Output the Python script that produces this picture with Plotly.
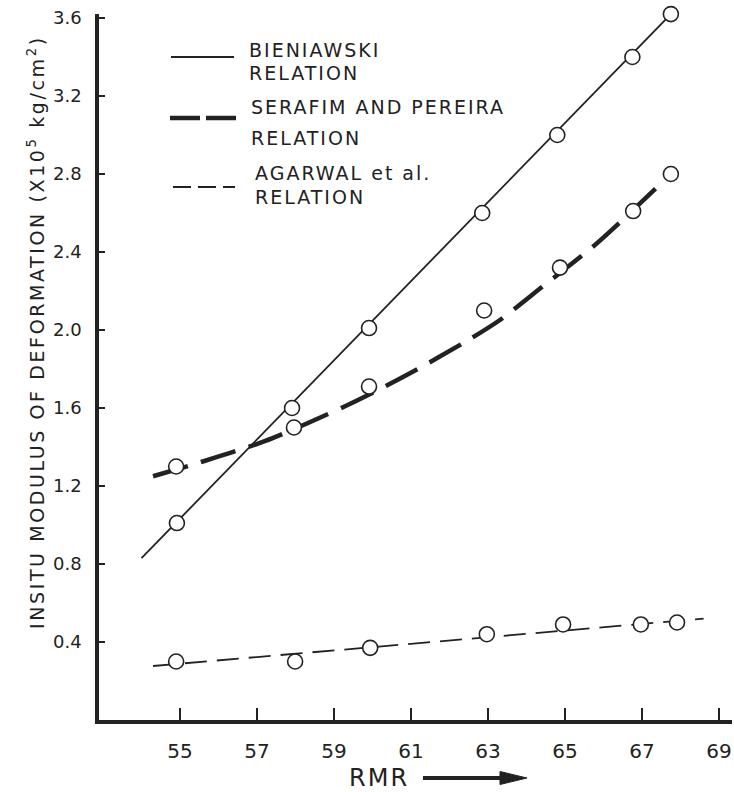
import plotly.graph_objects as go

# ---------------- data ----------------
bien_pts_x = [54.92, 57.91, 59.91, 62.85, 64.80, 66.75, 67.75]
bien_pts_y = [1.01, 1.60, 2.01, 2.60, 3.00, 3.40, 3.62]
bien_line_x = [54.0, 67.75]
bien_line_y = [0.83, 3.62]

sera_pts_x = [54.90, 57.96, 59.91, 62.90, 64.87, 66.77, 67.75]
sera_pts_y = [1.30, 1.50, 1.71, 2.10, 2.32, 2.61, 2.80]
sera_curve_x = [54.3, 55.5, 57.2, 59.3, 60.9, 62.5, 63.3, 64.4, 65.8, 67.75]
sera_curve_y = [1.25, 1.32, 1.43, 1.61, 1.77, 1.95, 2.05, 2.22, 2.44, 2.80]

agar_pts_x = [54.90, 57.99, 59.94, 62.97, 64.95, 66.97, 67.91]
agar_pts_y = [0.30, 0.30, 0.37, 0.44, 0.49, 0.49, 0.50]
agar_line_x = [54.3, 68.6]
agar_line_y = [0.277, 0.52]

x_ticks = [55, 57, 59, 61, 63, 65, 67, 69]
y_ticks = [0.4, 0.8, 1.2, 1.6, 2.0, 2.4, 2.8, 3.2, 3.6]
y_tick_text = ["0.4", "0.8", "1.2", "1.6", "2.0", "2.4", "2.8", "3.2", "3.6"]

legend_names = ["BIENIAWSKI", "SERAFIM AND PEREIRA", "AGARWAL et al."]
legend_sub = "RELATION"
y_title = "INSITU MODULUS OF DEFORMATION (X10<sup>5</sup> kg/cm<sup>2</sup>)"
x_title = "RMR"

# ---------------- layout geometry ----------------
W, H = 734, 792
PX_PER_Y = 195.0
ML, MR, MT, MB = 99, 2, 14, 72
PW, PH = W - ML - MR, H - MT - MB
INK = "#222222"
FONT = "DejaVu Sans"


def px(xp):
    return (xp - ML) / PW


def py(yp):
    return (H - MB - yp) / PH


def spaced(text, sp):
    return '<span style="letter-spacing:%spx">%s</span>' % (sp, text)


fig = go.Figure()

marker = dict(symbol="circle", size=15, color="white",
              line=dict(color=INK, width=1.6))

# Bieniawski
fig.add_trace(go.Scatter(x=bien_line_x, y=bien_line_y, mode="lines",
                         line=dict(color=INK, width=1.8), showlegend=False,
                         hoverinfo="skip", cliponaxis=False))
# Serafim and Pereira
fig.add_trace(go.Scatter(x=sera_curve_x, y=sera_curve_y, mode="lines",
                         line=dict(color=INK, width=4.5, dash="36px,14px",
                                   shape="spline", smoothing=0.8),
                         showlegend=False, hoverinfo="skip", cliponaxis=False))
# Agarwal
fig.add_trace(go.Scatter(x=agar_line_x, y=agar_line_y, mode="lines",
                         line=dict(color=INK, width=1.8, dash="22px,10px"),
                         showlegend=False, hoverinfo="skip", cliponaxis=False))

for xs, ys in [(bien_pts_x, bien_pts_y), (sera_pts_x, sera_pts_y),
               (agar_pts_x, agar_pts_y)]:
    fig.add_trace(go.Scatter(x=xs, y=ys, mode="markers", marker=marker,
                             showlegend=False, cliponaxis=False))

x0 = 55 - (180 - ML) / 38.5
x1 = x0 + PW / 38.5

fig.update_xaxes(range=[x0, x1], tickvals=x_ticks, ticks="inside",
                 ticklen=12, tickwidth=2, tickcolor=INK,
                 showline=True, linewidth=3.5, linecolor=INK,
                 showgrid=False, zeroline=False, ticklabelstandoff=10,
                 tickfont=dict(family=FONT, size=20, color=INK))
fig.update_yaxes(range=[0, PH / PX_PER_Y], tickvals=y_ticks,
                 ticktext=y_tick_text,
                 ticks="inside", ticklen=6, tickwidth=2, tickcolor=INK,
                 showline=True, linewidth=3.5, linecolor=INK,
                 showgrid=False, zeroline=False, ticklabelstandoff=10,
                 tickfont=dict(family=FONT, size=18, color=INK))

shapes = []
annotations = []

# legend samples
leg_lines = [
    (171, 234, 57, dict(color=INK, width=2)),
    (170, 237, 118, dict(color=INK, width=4.5, dash="30px,6px")),
    (173, 235, 187, dict(color=INK, width=1.8, dash="18px,7px")),
]
for xa, xb, yy, ln in leg_lines:
    shapes.append(dict(type="line", xref="paper", yref="paper",
                       x0=px(xa), x1=px(xb), y0=py(yy), y1=py(yy), line=ln))

leg_text_pos = [(247, 50, 73), (249, 107, 138), (253, 173, 197)]
for name, (lx, y1, y2) in zip(legend_names, leg_text_pos):
    for txt, yy in [(name, y1), (legend_sub, y2)]:
        annotations.append(dict(text=spaced(txt, 2), xref="paper", yref="paper",
                                x=px(lx), y=py(yy), xanchor="left",
                                yanchor="middle", showarrow=False,
                                font=dict(family=FONT, size=19, color=INK)))

# y-axis title
annotations.append(dict(text=spaced(y_title, 2.6), xref="paper", yref="paper",
                        x=px(36), y=py(332), xanchor="center", yanchor="middle",
                        textangle=-90, showarrow=False,
                        font=dict(family=FONT, size=19, color=INK)))

# x-axis title with arrow
annotations.append(dict(text=spaced(x_title, 2), xref="paper", yref="paper",
                        x=px(347), y=py(778), xanchor="left", yanchor="middle",
                        showarrow=False,
                        font=dict(family=FONT, size=24, color=INK)))
shapes.append(dict(type="line", xref="paper", yref="paper",
                   x0=px(423), x1=px(505), y0=py(778), y1=py(778),
                   line=dict(color=INK, width=4)))
shapes.append(dict(type="path", xref="paper", yref="paper",
                   path="M %f %f L %f %f L %f %f Z" % (
                       px(500), py(771.5), px(527), py(778), px(500), py(784.5)),
                   fillcolor=INK, line=dict(color=INK, width=1)))

fig.update_layout(width=W, height=H,
                  margin=dict(l=ML, r=MR, t=MT, b=MB),
                  paper_bgcolor="white", plot_bgcolor="white",
                  shapes=shapes, annotations=annotations, showlegend=False)

fig.write_html("out.html",
               config={"displayModeBar": False},
               post_script="document.body.style.margin='0';"
                           "document.body.style.overflow='hidden';")
